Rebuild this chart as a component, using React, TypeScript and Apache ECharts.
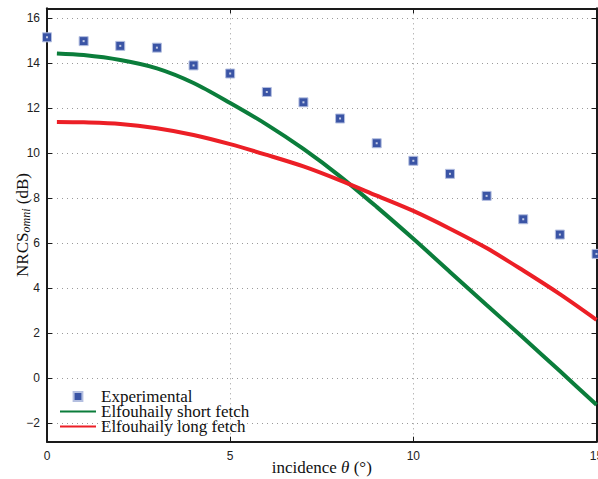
import React, { useEffect, useRef } from "react";
import * as echarts from "echarts";

const expX = [0, 1, 2, 3, 4, 5, 6, 7, 8, 9, 10, 11, 12, 13, 14, 15];
const expY = [15.16, 14.99, 14.78, 14.7, 13.91, 13.55, 12.73, 12.27, 11.55, 10.45, 9.67, 9.09, 8.11, 7.07, 6.39, 5.53];

const curveX = [0.27, 1, 2, 3, 4, 5, 6, 7, 8, 9, 10, 11, 12, 13, 14, 15];
const shortFetchY = [14.44, 14.37, 14.15, 13.78, 13.13, 12.24, 11.28, 10.2, 8.98, 7.62, 6.2, 4.73, 3.26, 1.8, 0.32, -1.18];
const longFetchY = [11.4, 11.38, 11.31, 11.12, 10.82, 10.41, 9.93, 9.42, 8.8, 8.12, 7.44, 6.65, 5.79, 4.79, 3.74, 2.6];

const yTicks = [-2, 0, 2, 4, 6, 8, 10, 12, 14, 16];
const xTicks = [0, 5, 10, 15];

const pairs = (xs: number[], ys: number[]) => xs.map((x, i) => [x, ys[i]]);

export default function App() {
  const ref = useRef<HTMLDivElement>(null);
  useEffect(() => {
    if (!ref.current) return;
    const chart = echarts.init(ref.current, null, { renderer: "svg" });
    const axisLineStyle = { color: "#1a1a1a", width: 2 };
    const gridLine = { show: true, lineStyle: { color: "#9a9a9a", width: 1, type: [1, 4] as any } };
    const tickFont = { fontFamily: "Liberation Sans", fontSize: 12, color: "#222" };
    chart.setOption({
      animation: false,
      backgroundColor: "#fff",
      grid: { left: 47, right: 1.5, top: 8.3, bottom: 37.3, containLabel: false, outerBoundsMode: "none" },
      legend: {
        orient: "vertical",
        left: 59,
        top: 388,
        padding: 0,
        itemGap: -2,
        itemWidth: 36,
        itemHeight: 11,
        textStyle: { fontFamily: "Liberation Serif", fontSize: 17, lineHeight: 15, color: "#111" },
        data: [
          { name: "Experimental" },
          { name: "Elfouhaily short fetch", itemStyle: { opacity: 0 } },
          { name: "Elfouhaily long fetch", itemStyle: { opacity: 0 } },
        ],
      },
      xAxis: [
        {
          type: "value",
          position: "bottom",
          min: 0,
          max: 15,
          interval: 5,
          axisLine: { show: true, onZero: false, lineStyle: axisLineStyle },
          axisTick: { show: true, inside: true, length: 5, lineStyle: { color: "#1a1a1a", width: 1 }, customValues: xTicks },
          axisLabel: { ...tickFont, margin: 8, customValues: xTicks },
          splitLine: gridLine,
          name: "{a|incidence }{i|θ}{a| (°)}",
          nameLocation: "middle",
          nameGap: 17,
          nameMoveOverlap: false,
          nameTextStyle: {
            rich: {
              a: { fontFamily: "Liberation Serif", fontSize: 17, color: "#111" },
              i: { fontFamily: "Liberation Serif", fontSize: 17, fontStyle: "italic", color: "#111" },
            },
          },
        },
        {
          type: "value",
          position: "top",
          min: 0,
          max: 15,
          interval: 5,
          axisLine: { show: true, onZero: false, lineStyle: axisLineStyle },
          axisTick: { show: true, inside: true, length: 5, lineStyle: { color: "#1a1a1a", width: 1 } },
          axisLabel: { show: false },
          splitLine: { show: false },
        },
      ],
      yAxis: [
        {
          type: "value",
          position: "left",
          min: -2.82,
          max: 16.45,
          axisLine: { show: true, onZero: false, lineStyle: axisLineStyle },
          axisTick: { show: true, inside: true, length: 5, lineStyle: { color: "#1a1a1a", width: 1 }, customValues: yTicks },
          axisLabel: { ...tickFont, margin: 7, customValues: yTicks, formatter: (v: number) => (v < 0 ? "\u2212" + Math.abs(v) : String(v)) },
          splitLine: gridLine,
          name: "{a|NRCS}{b|omni}{a| (dB)}",
          nameLocation: "middle",
          nameGap: 15,
          nameMoveOverlap: false,
          nameTextStyle: {
            rich: {
              a: { fontFamily: "Liberation Serif", fontSize: 17, color: "#111", lineHeight: 20, verticalAlign: "middle" },
              b: { fontFamily: "Liberation Serif", fontSize: 12, fontStyle: "italic", color: "#111", lineHeight: 20, verticalAlign: "bottom", padding: [6, 0, 0, 0] },
            },
          },
        },
        {
          type: "value",
          position: "right",
          min: -2.82,
          max: 16.45,
          axisLine: { show: true, onZero: false, lineStyle: axisLineStyle },
          axisTick: { show: true, inside: true, length: 5, lineStyle: { color: "#1a1a1a", width: 1 }, customValues: yTicks },
          axisLabel: { show: false, customValues: yTicks },
          splitLine: { show: false },
        },
      ],
      series: [
        {
          name: "Elfouhaily short fetch",
          type: "line",
          smooth: 0.3,
          showSymbol: false,
          symbol: "none",
          data: pairs(curveX, shortFetchY),
          lineStyle: { color: "#0b7d3b", width: 4 },
          itemStyle: { color: "#0b7d3b" },
          z: 3,
        },
        {
          name: "Elfouhaily long fetch",
          type: "line",
          smooth: 0.3,
          showSymbol: false,
          symbol: "none",
          data: pairs(curveX, longFetchY),
          lineStyle: { color: "#ec1f26", width: 4 },
          itemStyle: { color: "#ec1f26" },
          z: 3,
        },
        {
          name: "Experimental",
          type: "line",
          data: pairs(expX, expY),
          symbol: "rect",
          symbolSize: 9,
          showSymbol: true,
          lineStyle: { width: 0, opacity: 0 },
          itemStyle: { color: "#3a54a5", borderColor: "#b4bfe0", borderWidth: 1 },
          clip: false,
          z: 5,
        },
        {
          name: "dots",
          type: "scatter",
          data: pairs(expX, expY),
          symbol: "rect",
          symbolSize: 2,
          itemStyle: { color: "#e6eaf5" },
          clip: false,
          silent: true,
          z: 6,
        },
      ],
    });
    return () => chart.dispose();
  }, []);
  return <div ref={ref} style={{ width: 598, height: 479, position: "absolute", left: 0, top: 0 }} />;
}
